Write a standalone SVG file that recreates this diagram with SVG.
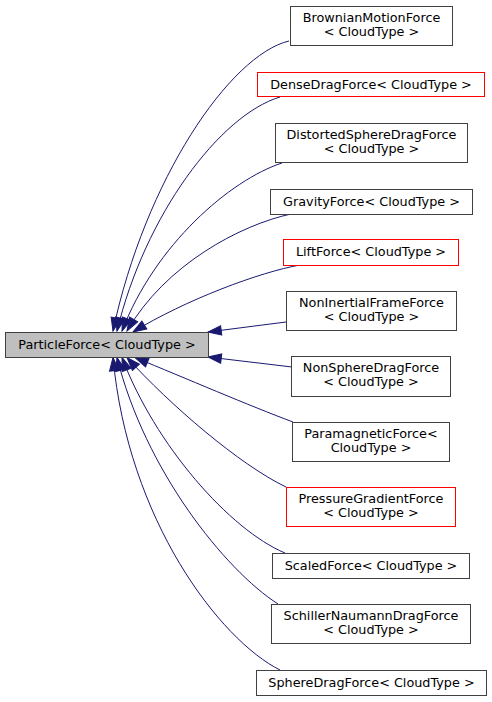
<svg xmlns="http://www.w3.org/2000/svg" width="492" height="702" viewBox="0 0 492 702">
<style>
.n rect{fill:#ffffff;stroke:#404040;stroke-width:1}
.n.red rect{stroke:#ff0000}
.n.main rect{fill:#bfbfbf}
.n text{font-family:"DejaVu Sans",sans-serif;font-size:12.8px;fill:#000000;text-anchor:middle}
#edges path{fill:none;stroke:#191970;stroke-width:1;marker-end:url(#ah)}
</style>
<defs>
<marker id="ah" markerUnits="userSpaceOnUse" markerWidth="14" markerHeight="10" refX="13.3" refY="4.7" orient="auto" overflow="visible">
<path d="M0,0 L13.3,4.7 L0,9.4 Z" fill="#191970" stroke="#191970" stroke-width="1"/>
</marker>
</defs>
<rect width="492" height="702" fill="#ffffff"/>
<g id="edges">
<path d="M289,41 C230,55 145,180 113,331"/>
<path d="M280,97 C220,115 145,215 117,331"/>
<path d="M282,163 C230,180 155,245 122,331"/>
<path d="M291,214 C240,225 165,265 127,331"/>
<path d="M300,265 C260,272 185,300 133,332"/>
<path d="M286,322 L208,332"/>
<path d="M292,367 L208,357"/>
<path d="M293,422 C250,406 185,378 135,357.5"/>
<path d="M286,487 C240,465 170,405 127,357.5"/>
<path d="M285,553 C230,530 155,445 122,357.5"/>
<path d="M278,604 C225,570 145,470 117,357.5"/>
<path d="M280,670 C220,640 128,520 113,357.5"/>
</g>
<g id="ParticleForce" class="n main"><rect x="5.5" y="332.5" width="203" height="25"/><text x="107" y="348.5">ParticleForce&lt; CloudType &gt;</text></g>
<g id="BrownianMotionForce" class="n"><rect x="290.5" y="6.5" width="162" height="39"/><text x="371.5" y="21.5">BrownianMotionForce</text><text x="371.5" y="35.8">&lt; CloudType &gt;</text></g>
<g id="DenseDragForce" class="n red"><rect x="257.5" y="72.5" width="227" height="24"/><text x="371" y="88.5">DenseDragForce&lt; CloudType &gt;</text></g>
<g id="DistortedSphereDragForce" class="n"><rect x="275.5" y="123.5" width="192" height="39"/><text x="371.5" y="138.5">DistortedSphereDragForce</text><text x="371.5" y="152.8">&lt; CloudType &gt;</text></g>
<g id="GravityForce" class="n"><rect x="270.5" y="189.5" width="202" height="25"/><text x="371.5" y="206">GravityForce&lt; CloudType &gt;</text></g>
<g id="LiftForce" class="n red"><rect x="283.5" y="239.5" width="175" height="26"/><text x="371" y="256">LiftForce&lt; CloudType &gt;</text></g>
<g id="NonInertialFrameForce" class="n"><rect x="286.5" y="291.5" width="170" height="39"/><text x="371.5" y="306.5">NonInertialFrameForce</text><text x="371.5" y="320.8">&lt; CloudType &gt;</text></g>
<g id="NonSphereDragForce" class="n"><rect x="291.5" y="356.5" width="159" height="40"/><text x="371" y="372">NonSphereDragForce</text><text x="371" y="386.3">&lt; CloudType &gt;</text></g>
<g id="ParamagneticForce" class="n"><rect x="292.5" y="422.5" width="157" height="39"/><text x="371" y="437.5">ParamagneticForce&lt;</text><text x="371" y="451.8">CloudType &gt;</text></g>
<g id="PressureGradientForce" class="n red"><rect x="286.5" y="487.5" width="169" height="39"/><text x="371" y="502.5">PressureGradientForce</text><text x="371" y="516.8">&lt; CloudType &gt;</text></g>
<g id="ScaledForce" class="n"><rect x="272.5" y="553.5" width="197" height="25"/><text x="371" y="570">ScaledForce&lt; CloudType &gt;</text></g>
<g id="SchillerNaumannDragForce" class="n"><rect x="271.5" y="604.5" width="199" height="39"/><text x="371" y="619.5">SchillerNaumannDragForce</text><text x="371" y="633.8">&lt; CloudType &gt;</text></g>
<g id="SphereDragForce" class="n"><rect x="256.5" y="670.5" width="230" height="25"/><text x="371.5" y="687">SphereDragForce&lt; CloudType &gt;</text></g>
</svg>
